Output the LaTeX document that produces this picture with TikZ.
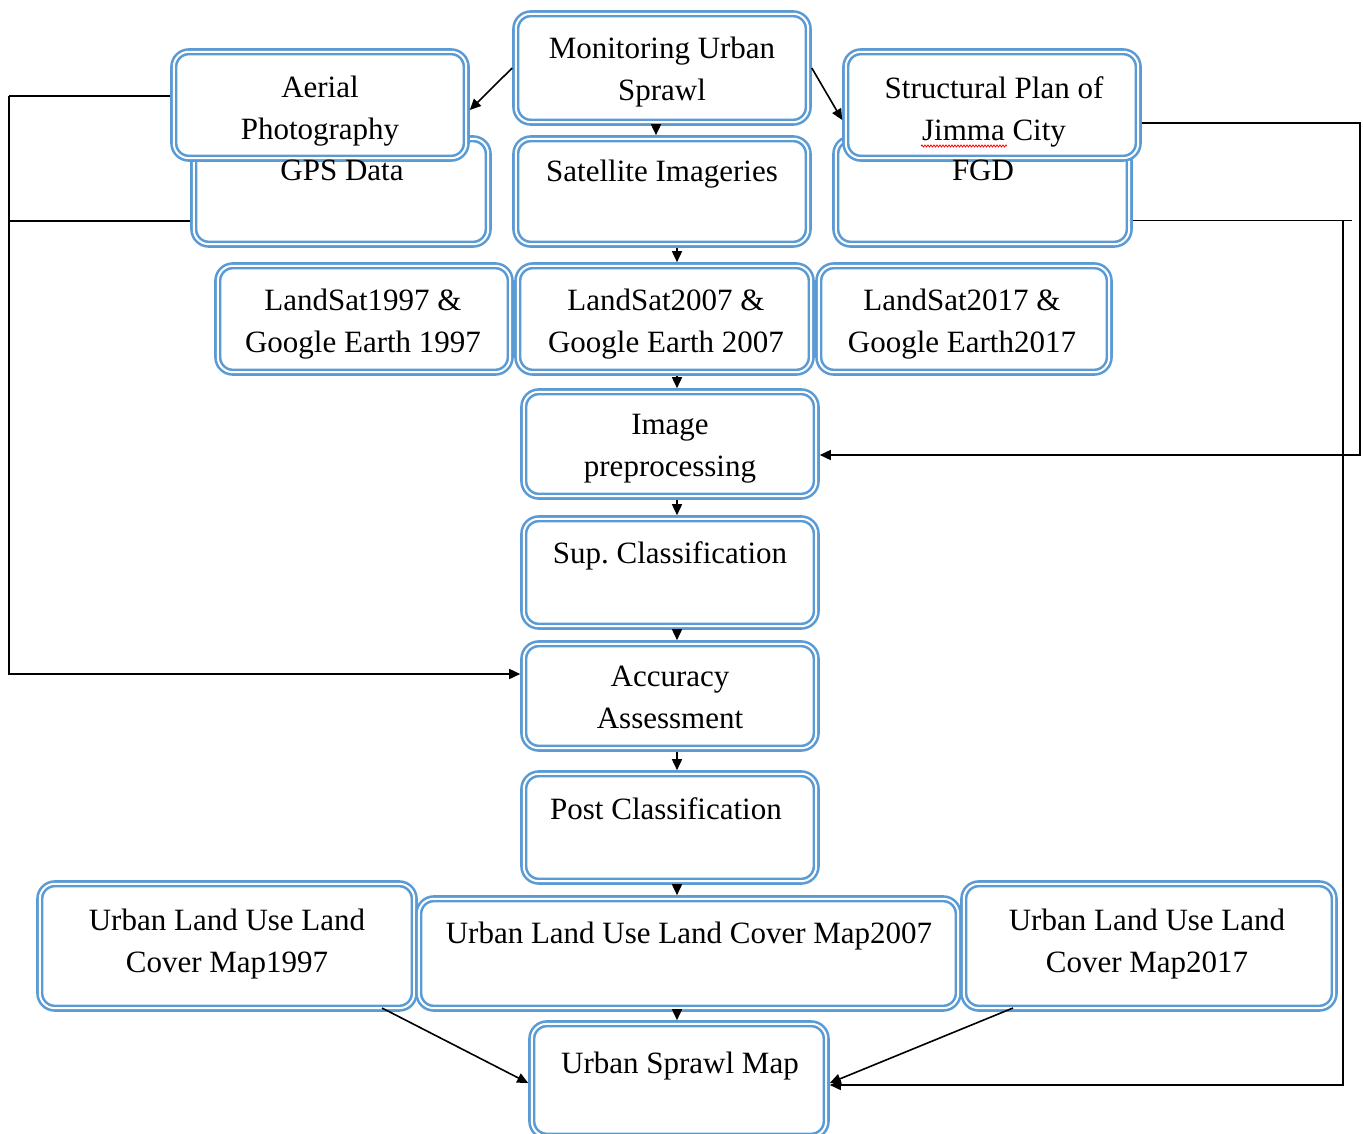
\documentclass[tikz,border=0pt]{standalone}
\usepackage{fontspec}
\setmainfont{Liberation Serif}
\usetikzlibrary{arrows.meta,decorations.pathmorphing}
\definecolor{bxblue}{RGB}{91,155,213}
\begin{document}
\begin{tikzpicture}[x=1pt,y=-1pt,
  bbox/.style={draw=bxblue, double=white, double distance=2pt, line width=2.6pt,
    rounded corners=15pt, fill=white, inner sep=0pt, outer sep=3.6pt},
  txt/.style={inner sep=0pt, anchor=north, align=center,
    font=\fontsize{31}{42}\selectfont},
  conn/.style={draw=black, line width=1.6pt},
  arr/.style={conn, -{Triangle[length=11pt,width=10pt]}}]
\useasboundingbox (0,0) rectangle (1363,1134);
\fill[white] (0,0) rectangle (1363,1134);

% boxes (behind ones first)
\node[bbox, minimum width=294.4pt, minimum height=105.4pt] (gps) at (341,191.5) {};
\node[bbox, minimum width=293.4pt, minimum height=105.4pt] (fgd) at (982.5,191.5) {};
\node[bbox, minimum width=292.4pt, minimum height=108.4pt] (mon) at (662,68) {};
\node[bbox, minimum width=292.4pt, minimum height=106.4pt] (aer) at (320,105) {};
\node[bbox, minimum width=292.4pt, minimum height=105.4pt] (sat) at (662,191.5) {};
\node[bbox, minimum width=292.4pt, minimum height=106.4pt] (str) at (992,105) {};
\node[bbox, minimum width=292.4pt, minimum height=106.4pt] (l97) at (364,319) {};
\node[bbox, minimum width=293.4pt, minimum height=106.4pt] (l07) at (664.5,319) {};
\node[bbox, minimum width=290.4pt, minimum height=106.4pt] (l17) at (964,319) {};
\node[bbox, minimum width=292.4pt, minimum height=104.4pt] (img) at (670,444) {};
\node[bbox, minimum width=292.4pt, minimum height=107.4pt] (sup) at (670,572.5) {};
\node[bbox, minimum width=292.4pt, minimum height=104.4pt] (acc) at (670,696) {};
\node[bbox, minimum width=292.4pt, minimum height=107.4pt] (post) at (670,827.5) {};
\node[bbox, minimum width=374.4pt, minimum height=124.4pt] (u97) at (227,946) {};
\node[bbox, minimum width=539.4pt, minimum height=109.4pt] (u07) at (688.5,953.5) {};
\node[bbox, minimum width=370.4pt, minimum height=124.4pt] (u17) at (1149,946) {};
\node[bbox, minimum width=294.4pt, minimum height=112.4pt] (usm) at (679,1080) {};

% texts
\node[txt] (tgps) at (342,160) {GPS Data};
\node[txt] (tfgd) at (983,160) {FGD};
\node[txt] (tmon) at (662,37) {Monitoring Urban\\Sprawl};
\node[txt] (taer) at (320,76) {Aerial\\Photography};
\node[txt] (tsat) at (662,160) {Satellite Imageries};
\node[txt] (tstr) at (994,76) {Structural Plan of\\Jimma City};
\node[txt] (tl97) at (363,289) {LandSat1997 \&\\Google Earth 1997};
\node[txt] (tl07) at (666,289) {LandSat2007 \&\\Google Earth 2007};
\node[txt] (tl17) at (962,289) {LandSat2017 \&\\Google Earth2017};
\node[txt] (timg) at (670,414) {Image\\preprocessing};
\node[txt] (tsup) at (670,541) {Sup.\ Classification};
\node[txt] (tacc) at (670,666) {Accuracy\\Assessment};
\node[txt] (tpost) at (666,797) {Post Classification};
\node[txt] (tu97) at (227,909) {Urban Land Use Land\\Cover Map1997};
\node[txt] (tu07) at (689,922) {Urban Land Use Land Cover Map2007};
\node[txt] (tu17) at (1147,909) {Urban Land Use Land\\Cover Map2017};
\node[txt] (tusm) at (680,1052) {Urban Sprawl Map};

% spell-check squiggle under "Jimma"
\draw[red, line width=0.8pt, decorate, decoration={snake, amplitude=1pt, segment length=3pt}]
  (921,146) -- (1007,146);

% vertical flow arrows
\coordinate (vx0) at (656,0);
\coordinate (vx) at (677,0);
\draw[arr] (mon.south -| vx0) -- (sat.north -| vx0);
\draw[arr] (sat.south -| vx) -- (l07.north -| vx);
\draw[arr] (l07.south -| vx) -- (img.north -| vx);
\draw[arr] (img.south -| vx) -- (sup.north -| vx);
\draw[arr] (sup.south -| vx) -- (acc.north -| vx);
\draw[arr] (acc.south -| vx) -- (post.north -| vx);
\draw[arr] (post.south -| vx) -- (u07.north -| vx);
\draw[arr] (u07.south -| vx) -- (usm.north -| vx);

% diagonal arrows
\draw[arr] (mon.west) -- ([yshift=-5pt]aer.east);
\draw[arr] (mon.east) -- ([yshift=-15pt]str.west);
\draw[arr] (382,1008) -- ([yshift=-3pt]usm.west);
\draw[arr] (1013,1008) -- ([yshift=-3pt]usm.east);

% left feedback loop
\coordinate (la) at (9,96);
\coordinate (lb) at (9,674);
\draw[conn] ([yshift=9pt]aer.west) -- (la);
\draw[conn] ([yshift=-29.5pt]gps.west) -- ([yshift=-29.5pt]gps.west -| la);
\draw[arr] (la) -- (lb) -- (acc.west |- lb);

% right loops
\coordinate (ra) at (1360,455);
\draw[arr] ([yshift=-18pt]str.east) -| (ra) -- (img.east |- ra);
\coordinate (rb) at (1352,220.5);
\coordinate (rc) at (1343,1085);
\draw[conn] ([yshift=-29pt]fgd.east) -- (rb);
\draw[arr] (rc |- rb) -- (rc) -- (usm.east |- rc);
\end{tikzpicture}
\end{document}
